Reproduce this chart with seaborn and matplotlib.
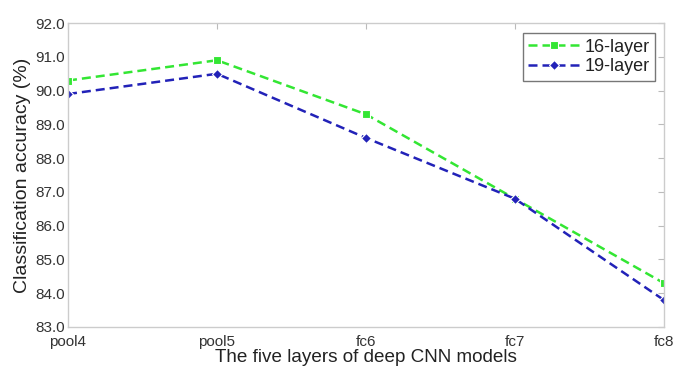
import matplotlib
matplotlib.use("Agg")
import matplotlib.pyplot as plt
import seaborn as sns
import pandas as pd

layers = ["pool4", "pool5", "fc6", "fc7", "fc8"]
acc16 = [90.3, 90.9, 89.3, 86.8, 84.3]
acc19 = [89.9, 90.5, 88.6, 86.8, 83.8]
series = ["16-layer", "19-layer"]
yticks = [83.0, 84.0, 85.0, 86.0, 87.0, 88.0, 89.0, 90.0, 91.0, 92.0]

sns.set_style("white")
plt.rcParams["font.family"] = ["Liberation Sans", "DejaVu Sans"]

df = pd.DataFrame({
    "pos": list(range(len(layers))) * 2,
    "acc": acc16 + acc19,
    "model": [series[0]] * len(layers) + [series[1]] * len(layers),
})

fig = plt.figure(figsize=(6.76, 3.67), dpi=100)
ax = fig.add_axes([0.1006, 0.109, 0.8814, 0.828])
palette = {series[0]: "#33e633", series[1]: "#2222b8"}
sns.lineplot(data=df, x="pos", y="acc", hue="model", style="model",
             palette=palette, markers={series[0]: "s", series[1]: "D"},
             dashes={series[0]: (3.6, 2), series[1]: (3.6, 2)},
             markersize=5.5, linewidth=1.8, markeredgewidth=0.8, ax=ax)

ax.set_xlim(0, len(layers) - 1)
ax.set_ylim(83, 92)
ax.set_xticks(range(len(layers)))
ax.set_xticklabels(layers)
ax.set_yticks(yticks)
ax.set_yticklabels([f"{v:.1f}" for v in yticks])
ax.tick_params(direction="in", length=4, color="#bbbbbb", labelsize=11,
               labelcolor="#333333", top=True, right=True, pad=2)
ax.tick_params(axis="x", pad=6)
for s in ax.spines.values():
    s.set_color("#cccccc")
    s.set_linewidth(1.0)
ax.set_xlabel("The five layers of deep CNN models", fontsize=13.6, color="#222222", labelpad=0)
ax.set_ylabel("Classification accuracy (%)", fontsize=14, color="#222222", labelpad=3)

leg = ax.legend(loc="upper right", bbox_to_anchor=(0.985, 0.967), fontsize=13,
                frameon=True, fancybox=False, handlelength=2.8, borderpad=0.3,
                labelspacing=0.15, handletextpad=0.3, borderaxespad=0)
leg.get_frame().set_edgecolor("#555555")
leg.get_frame().set_linewidth(1.0)
for t in leg.get_texts():
    t.set_color("#222222")

fig.savefig("out.png", dpi=100)
